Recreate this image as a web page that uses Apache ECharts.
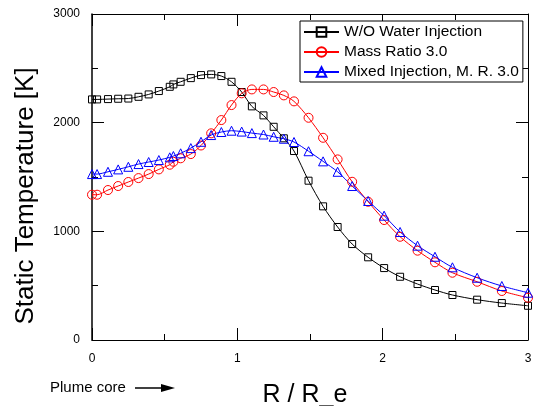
<!DOCTYPE html>
<html>
<head>
<meta charset="utf-8">
<script src="https://cdn.jsdelivr.net/npm/echarts@6/dist/echarts.min.js"></script>
<style>
	html, body { margin: 0; padding: 0; background: #fff; }
	#chart { width: 534px; height: 406px; }
</style>
</head>
<body>
<div id="chart"></div>
<script>
//半径位置 R / R_e
var radius = [0, 0.035, 0.11, 0.18, 0.25, 0.32, 0.39, 0.46, 0.535, 0.56, 0.61, 0.68, 0.75, 0.82, 0.89, 0.96,
	1.03, 1.1, 1.18, 1.25, 1.32, 1.39, 1.49, 1.59, 1.69, 1.79, 1.9, 2.01, 2.12, 2.24, 2.36, 2.48, 2.65, 2.82, 3.0];
//无喷水
var noWater = [2214, 2214, 2217, 2220, 2222, 2238, 2260, 2291, 2330, 2352, 2376, 2410, 2438, 2444, 2429, 2376,
	2282, 2150, 2067, 1962, 1856, 1739, 1466, 1230, 1040, 883, 761, 662, 582, 515, 460, 414, 371, 340, 315];
//质量比 3.0
var massRatio = [1337, 1337, 1380, 1417, 1454, 1490, 1527, 1570, 1613, 1640, 1672, 1711, 1790, 1902, 2024, 2162,
	2270, 2306, 2306, 2282, 2251, 2196, 2045, 1861, 1662, 1456, 1272, 1104, 950, 822, 715, 619, 536, 451, 389];
//混合喷射
var mixed = [1527, 1527, 1548, 1570, 1594, 1619, 1638, 1656, 1681, 1693, 1718, 1766, 1824, 1886, 1914, 1926,
	1918, 1904, 1891, 1870, 1852, 1822, 1737, 1644, 1548, 1417, 1279, 1144, 994, 868, 766, 669, 573, 497, 435];
var seriesNames = ["W/O Water Injection", "Mass Ratio 3.0", "Mixed Injection, M. R. 3.0"];
var xTicks = [0, 1, 2, 3];
var yTicks = [0, 1000, 2000, 3000];

var font = "Arial, 'Liberation Sans', sans-serif";

/**
 * 组合 [x, y] 数据
 */
function pairs(ys) {
	var out = [];
	for (var i = 0; i < radius.length; i++) {
		out.push([radius[i], ys[i]]);
	}
	return out;
}

/**
 * 坐标轴公共样式
 */
function axisBase(show) {
	return {
		axisLine: { show: true, onZero: false, lineStyle: { color: '#000', width: 1 } },
		axisTick: { show: true, inside: true, length: 12, lineStyle: { color: '#000' } },
		minorTick: { show: true, splitNumber: 2, length: 6, lineStyle: { color: '#000' } },
		splitLine: { show: false },
		axisLabel: { show: show, color: '#000', fontFamily: font, fontSize: 12 }
	};
}

var xBottom = Object.assign(axisBase(true), {
	type: 'value', position: 'bottom', min: 0, max: 3, interval: 1,
	name: 'R / R_e', nameLocation: 'middle', nameGap: 43,
	nameTextStyle: { color: '#000', fontFamily: font, fontSize: 25, padding: [0, 10, 0, 0] }
});
xBottom.axisLabel.margin = 13;
xBottom.axisLabel.formatter = function(v) { return xTicks.indexOf(v) >= 0 ? String(v) : ''; };
var xTop = Object.assign(axisBase(false), {
	type: 'value', position: 'top', min: 0, max: 3, interval: 1
});
var yLeft = Object.assign(axisBase(true), {
	type: 'value', position: 'left', min: 0, max: 3000, interval: 1000
});
yLeft.axisLabel.margin = 12;
yLeft.axisLabel.formatter = function(v) { return yTicks.indexOf(v) >= 0 ? String(v) : ''; };
yLeft.axisLine.lineStyle.width = 1.5;
var yRight = Object.assign(axisBase(false), {
	type: 'value', position: 'right', min: 0, max: 3000, interval: 1000
});

function makeSeries(name, ys, color, symbol, size) {
	return {
		name: name,
		type: 'line',
		xAxisIndex: 0,
		yAxisIndex: 0,
		data: pairs(ys),
		smooth: 0.3,
		symbol: symbol,
		symbolSize: size,
		showAllSymbol: true,
		lineStyle: { color: color, width: 1 },
		itemStyle: { color: 'rgba(0,0,0,0)', borderColor: color, borderWidth: 1 },
		emphasis: { disabled: true }
	};
}

var myChart = echarts.init(document.getElementById('chart'));
var option = {
	animation: false,
	backgroundColor: '#fff',
	grid: { left: 92, right: 6, top: 14, bottom: 66, outerBoundsMode: 'none' },
	xAxis: [xBottom, xTop],
	yAxis: [yLeft, yRight],
	legend: {
		orient: 'vertical',
		left: 300,
		top: 21,
		backgroundColor: '#fff',
		borderColor: '#000',
		borderWidth: 1,
		borderRadius: 0,
		padding: [3, 4, 2, 3],
		itemWidth: 35,
		itemHeight: 12,
		itemGap: 4,
		textStyle: { color: '#000', fontFamily: font, fontSize: 15.5, lineHeight: 16 },
		data: seriesNames
	},
	series: [
		makeSeries(seriesNames[0], noWater, '#000', 'rect', 7),
		makeSeries(seriesNames[1], massRatio, '#ff0000', 'circle', 9),
		makeSeries(seriesNames[2], mixed, '#0000ff', 'triangle', 9)
	],
	graphic: [{
		//纵轴标题
		type: 'text',
		x: 26,
		y: 196,
		rotation: Math.PI / 2,
		style: {
			text: 'Static Temperature [K]', fill: '#000', font: '26px ' + font,
			align: 'center', verticalAlign: 'middle'
		}
	}, {
		type: 'text',
		left: 50,
		top: 380,
		style: { text: 'Plume core', fill: '#000', font: '15px ' + font }
	}, {
		type: 'line',
		shape: { x1: 135, y1: 388, x2: 164, y2: 388 },
		style: { stroke: '#000', lineWidth: 1.5 }
	}, {
		type: 'polygon',
		shape: { points: [[161, 384], [175, 388], [161, 392]] },
		style: { fill: '#000' }
	}]
};
myChart.setOption(option);
</script>
</body>
</html>
